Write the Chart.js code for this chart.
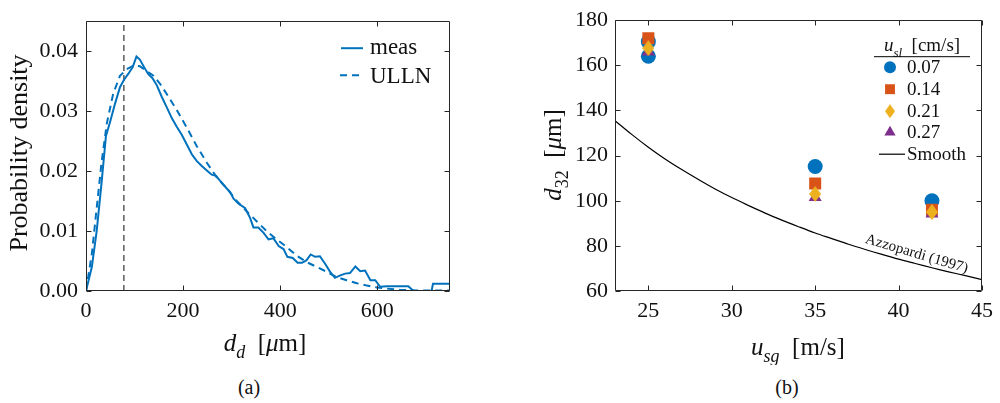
<!DOCTYPE html>
<html><head><meta charset="utf-8">
<script src="https://cdn.jsdelivr.net/npm/chart.js@4"></script>
<style>
html,body{margin:0;padding:0;background:#fff;}
body{width:1000px;height:403px;position:relative;overflow:hidden;font-family:"Liberation Serif",serif;}
canvas{position:absolute;top:0;}
#c1{left:0}
#c2{left:490px}
.cap{position:absolute;font-size:20px;color:#111;transform:translateX(-50%);top:375px;line-height:24px;font-family:"Liberation Serif",serif;}
</style></head><body>
<canvas id="c1" width="470" height="365"></canvas>
<canvas id="c2" width="510" height="365"></canvas>
<div class="cap" style="left:249px">(a)</div>
<div class="cap" style="left:787px">(b)</div>
<script>
// ---------- (a) droplet size distribution ----------
const measX = [0,12,22,32,41,50,60,70,78,87,96,104,111,120,128,137,146,156,166,177,187,197,208,218,228,238,249,259,268,276,290,297,304,314,328,338,345,355,366,376,386,397,407,415,426,436,445,454,463,472,482,493,503,513,524,534,544,555,565,575,586,596,606,620,664,675,712,715,750];
const measY = [0,0.004,0.010,0.018,0.0258,0.0283,0.0313,0.034,0.0352,0.0362,0.0373,0.0391,0.0386,0.0373,0.0362,0.0355,0.0343,0.0324,0.0307,0.0288,0.0274,0.0261,0.0244,0.0228,0.0217,0.0209,0.0201,0.0194,0.0192,0.0184,0.0171,0.0165,0.0154,0.0146,0.0138,0.0122,0.0106,0.0106,0.0097,0.0086,0.0088,0.0075,0.0070,0.0057,0.0055,0.0047,0.0047,0.0051,0.0061,0.0057,0.0058,0.0045,0.0032,0.0022,0.0026,0.0029,0.0030,0.0041,0.0033,0.0034,0.0018,0.0018,0.0007,0.0008,0.0008,0,0,0.0012,0.0012];
const ullnX = [0,12,22,32,43,56,70,84,98,111,125,139,153,166,187,208,228,249,269,290,311,331,352,372,393,414,434,455,476,496,517,537,558,579,599,620,647,682,750];
const ullnY = [0,0.0062,0.0138,0.0214,0.028,0.0329,0.0359,0.037,0.0376,0.0375,0.0367,0.0359,0.0345,0.0329,0.0302,0.0272,0.0242,0.0214,0.019,0.0171,0.015,0.0133,0.0116,0.01,0.0086,0.0073,0.0059,0.0048,0.004,0.0032,0.0023,0.0018,0.0013,0.0009,0.0006,0.0004,0.0002,0.0001,0.0001];
const modeDiameter = 78;
const pdfXRange = [0, 750];
const pdfYRange = [0, 0.045];
const pdfXTicks = [0, 200, 400, 600];
const pdfYTicks = [0, 0.01, 0.02, 0.03, 0.04];
const pdfSeriesNames = ['meas', 'ULLN'];

// ---------- (b) Sauter mean diameter ----------
const usgRange = [23, 45];
const d32Range = [60, 180];
const usgTicks = [25, 30, 35, 40, 45];
const d32Ticks = [60, 80, 100, 120, 140, 160, 180];
const uslLabels = ['0.07', '0.14', '0.21', '0.27'];
const usg007 = [25, 25, 35, 42];
const d32007 = [170.5, 164, 115.2, 100];
const usg014 = [25, 35, 42];
const d32014 = [172, 107.6, 96];
const usg021 = [25, 35, 42];
const d32021 = [167.6, 103, 95];
const usg027 = [25, 35, 42];
const d32027 = [166, 101.5, 94.2];
const smoothX = [23,24,25,26,27,28,29,30,31,32,33,34,35,36,37,38,39,40,41,42,43,44,45];
const smoothY = [135.5,129.4,123.7,118.5,113.8,109.4,105.2,101.4,97.9,94.5,91.4,88.5,85.7,83.2,80.7,78.4,76.2,74.1,72.2,70.3,68.5,66.8,65.0];
const smoothName = 'Smooth';
const correlationLabel = 'Azzopardi (1997)';
const correlationLabelAt = {x: 41.1, y: 76.8};

// ---------- helpers ----------
const FONT = '"Liberation Serif", "Times New Roman", "DejaVu Serif", serif';
const AX = '#262626';
const TXT = '#111111';
const BLUE = '#0072BD', ORANGE = '#D95319', YELLOW = '#EDB120', PURPLE = '#7E2F8E';
const pts = (xs, ys) => xs.map((x, i) => ({x: x, y: ys[i]}));

function fontOf(p, size) {
  const s = p.sub ? Math.round(size * 0.7) : size;
  return (p.it ? 'italic ' : '') + s + 'px ' + FONT;
}
function drawRich(ctx, parts, cx, cy, size, rot, align) {
  ctx.save();
  ctx.translate(cx, cy);
  ctx.rotate(rot || 0);
  ctx.fillStyle = TXT;
  ctx.textBaseline = 'alphabetic';
  ctx.textAlign = 'left';
  let w = 0;
  parts.forEach(p => { ctx.font = fontOf(p, size); w += ctx.measureText(p.t).width; });
  let x = align === 'left' ? 0 : -w / 2;
  parts.forEach(p => {
    ctx.font = fontOf(p, size);
    const dy = p.sub ? size * 0.28 : 0;
    ctx.fillText(p.t, x, size * 0.33 + dy);
    x += ctx.measureText(p.t).width;
  });
  ctx.restore();
}

function diamondImg(w, h, color) {
  const c = document.createElement('canvas');
  c.width = w; c.height = h;
  const g = c.getContext('2d');
  g.fillStyle = color;
  g.beginPath();
  g.moveTo(w / 2, 0); g.lineTo(w, h / 2); g.lineTo(w / 2, h); g.lineTo(0, h / 2);
  g.closePath(); g.fill();
  return c;
}

const framePlugin = {
  id: 'frame',
  afterDatasetsDraw(chart) {
    const {ctx, chartArea: a, scales} = chart;
    const x = scales.x, y = scales.y;
    const L = Math.round(a.left) + 0.5, R = Math.round(a.right) - 0.5;
    const T = Math.round(a.top) + 0.5, B = Math.round(a.bottom) - 0.5;
    ctx.save();
    ctx.strokeStyle = AX;
    ctx.lineWidth = 1;
    ctx.beginPath();
    ctx.moveTo(L, T); ctx.lineTo(R, T); ctx.lineTo(R, B); ctx.lineTo(L, B); ctx.closePath();
    const tl = 5;
    x.ticks.forEach(t => {
      const px = Math.round(x.getPixelForValue(t.value)) + 0.5;
      ctx.moveTo(px, B); ctx.lineTo(px, B - tl);
      ctx.moveTo(px, T); ctx.lineTo(px, T + tl);
    });
    y.ticks.forEach(t => {
      const py = Math.round(y.getPixelForValue(t.value)) + 0.5;
      ctx.moveTo(L, py); ctx.lineTo(L + tl, py);
      ctx.moveTo(R, py); ctx.lineTo(R - tl, py);
    });
    ctx.stroke();
    ctx.restore();
  }
};

function baseScales(xr, yr, xt, yt, yw, xh, yfmt, ypad) {
  return {
    x: {
      type: 'linear', min: xr[0], max: xr[1],
      afterBuildTicks: s => { s.ticks = xt.map(v => ({value: v})); },
      afterFit: s => { s.height = xh; },
      grid: {display: false, drawTicks: false},
      border: {display: false},
      ticks: {font: {family: FONT, size: 22}, color: TXT, padding: 7, maxRotation: 0, callback: v => String(v)}
    },
    y: {
      type: 'linear', min: yr[0], max: yr[1],
      afterBuildTicks: s => { s.ticks = yt.map(v => ({value: v})); },
      afterFit: s => { s.width = yw; },
      grid: {display: false, drawTicks: false},
      border: {display: false},
      ticks: {font: {family: FONT, size: 22}, color: TXT, padding: ypad, callback: yfmt}
    }
  };
}

function build() {
  Chart.defaults.font.family = FONT;

  // ---------- chart (a) ----------
  const pdfDecor = {
    id: 'pdfDecor',
    afterDraw(chart) {
      const {ctx, chartArea: a} = chart;
      ctx.save();
      ctx.strokeStyle = BLUE; ctx.lineWidth = 2;
      ctx.beginPath(); ctx.moveTo(a.right - 109, a.top + 27); ctx.lineTo(a.right - 87, a.top + 27); ctx.stroke();
      ctx.setLineDash([7, 5]);
      ctx.beginPath(); ctx.moveTo(a.right - 110, a.top + 54); ctx.lineTo(a.right - 86, a.top + 54); ctx.stroke();
      ctx.restore();
      drawRich(ctx, [{t: pdfSeriesNames[0]}], a.right - 80, a.top + 25, 23, 0, 'left');
      drawRich(ctx, [{t: pdfSeriesNames[1]}], a.right - 80, a.top + 54, 23, 0, 'left');
      drawRich(ctx, [{t: 'Probability density'}], 18, 153, 26, -Math.PI / 2);
      drawRich(ctx, [{t: 'd', it: 1}, {t: 'd', it: 1, sub: 1}, {t: '  ['}, {t: 'μ', it: 1}, {t: 'm]'}], 265, 343, 25, 0);
    }
  };

  new Chart(document.getElementById('c1'), {
    type: 'scatter',
    data: {
      datasets: [
        {label: pdfSeriesNames[0], data: pts(measX, measY), showLine: true, borderColor: BLUE, borderWidth: 2, pointRadius: 0, tension: 0, order: 1},
        {label: pdfSeriesNames[1], data: pts(ullnX, ullnY), showLine: true, borderColor: BLUE, borderWidth: 2, borderDash: [7, 5], pointRadius: 0, tension: 0, order: 2},
        {label: 'mode', data: [{x: modeDiameter, y: pdfYRange[0]}, {x: modeDiameter, y: pdfYRange[1]}], showLine: true, borderColor: '#5a5a5a', borderWidth: 1.5, borderDash: [6, 4], pointRadius: 0, order: 3}
      ]
    },
    options: {
      responsive: false, animation: false,
      layout: {padding: {left: 0, top: 16, right: 20, bottom: 0}},
      plugins: {legend: {display: false}, tooltip: {enabled: false}},
      scales: baseScales(pdfXRange, pdfYRange, pdfXTicks, pdfYTicks, 86, 74, v => v.toFixed(2), 8)
    },
    plugins: [framePlugin, pdfDecor]
  });

  // ---------- chart (b) ----------
  const diamondBig = diamondImg(12, 16, YELLOW);
  const diamondSmall = diamondImg(10, 14, YELLOW);
  const markerDefs = [
    {style: 'circle', r: 7.5, lr: 6, color: BLUE},
    {style: 'rect', r: 8.5, lr: 7, color: ORANGE},
    {style: diamondBig, lstyle: diamondSmall, r: 8, lr: 7, color: YELLOW},
    {style: 'triangle', r: 7.5, lr: 6.5, color: PURPLE}
  ];

  const d32Decor = {
    id: 'd32Decor',
    afterDraw(chart) {
      const {ctx, chartArea: a, scales} = chart;
      const lx = scales.x.getPixelForValue(correlationLabelAt.x);
      const ly = scales.y.getPixelForValue(correlationLabelAt.y);
      drawRich(ctx, [{t: correlationLabel}], lx, ly, 15, 16.5 * Math.PI / 180);
      drawRich(ctx, [{t: 'u', it: 1}, {t: 'sl', it: 1, sub: 1}, {t: '  [cm/s]'}], a.right - 60, a.top + 25, 19, 0);
      ctx.save();
      ctx.strokeStyle = '#000'; ctx.lineWidth = 1;
      ctx.beginPath(); ctx.moveTo(a.right - 108, a.top + 36.5); ctx.lineTo(a.right - 12, a.top + 36.5); ctx.stroke();
      ctx.restore();
      const rows = [47, 69, 91, 112];
      markerDefs.forEach((m, i) => {
        ctx.save();
        ctx.fillStyle = m.color;
        Chart.helpers.drawPoint(ctx, {pointStyle: m.lstyle || m.style, radius: m.lr, borderWidth: 0, rotation: 0}, a.right - 92, a.top + rows[i]);
        ctx.restore();
        drawRich(ctx, [{t: uslLabels[i]}], a.right - 75, a.top + rows[i], 19, 0, 'left');
      });
      ctx.save();
      ctx.strokeStyle = '#000'; ctx.lineWidth = 1.2;
      ctx.beginPath(); ctx.moveTo(a.right - 103, a.top + 134); ctx.lineTo(a.right - 77, a.top + 134); ctx.stroke();
      ctx.restore();
      drawRich(ctx, [{t: smoothName}], a.right - 75, a.top + 134, 19, 0, 'left');
      drawRich(ctx, [{t: 'd', it: 1}, {t: '32', sub: 1}, {t: '  ['}, {t: 'μ', it: 1}, {t: 'm]'}], 63, 155, 25, -Math.PI / 2);
      drawRich(ctx, [{t: 'u', it: 1}, {t: 'sg', it: 1, sub: 1}, {t: '  [m/s]'}], 798 - 490, 347, 25, 0);
    }
  };

  const seriesX = [usg007, usg014, usg021, usg027];
  const seriesY = [d32007, d32014, d32021, d32027];
  const drawOrder = [4, 3, 1, 2];
  const markerSets = markerDefs.map((m, i) => ({
    label: uslLabels[i], data: pts(seriesX[i], seriesY[i]),
    pointStyle: m.style, pointRadius: m.r, backgroundColor: m.color, borderColor: m.color,
    pointBorderWidth: 0, showLine: false, order: drawOrder[i]
  }));

  new Chart(document.getElementById('c2'), {
    type: 'scatter',
    data: {
      datasets: [
        {label: smoothName, data: pts(smoothX, smoothY), showLine: true, borderColor: '#000', borderWidth: 1.2, pointRadius: 0, tension: 0.3, order: 5}
      ].concat(markerSets)
    },
    options: {
      responsive: false, animation: false,
      layout: {padding: {left: 0, top: 16, right: 15, bottom: 0}},
      plugins: {legend: {display: false}, tooltip: {enabled: false}},
      scales: baseScales(usgRange, d32Range, usgTicks, d32Ticks, 125, 74, v => String(v), 7)
    },
    plugins: [framePlugin, d32Decor]
  });
}

build();
</script>
</body></html>
